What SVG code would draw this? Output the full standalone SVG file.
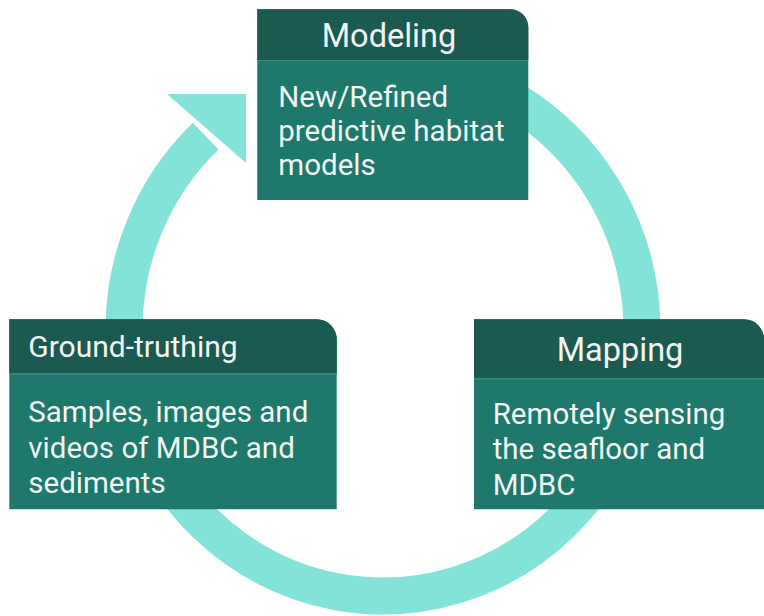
<svg xmlns="http://www.w3.org/2000/svg" width="764" height="616" viewBox="0 0 764 616">
<style>
.body{fill:#1e786c;}
.head{fill:#1a5a50;}
.sep{stroke:#3f8e83;stroke-width:1.2;}
.ht{font-family:Roboto,"Liberation Sans",sans-serif;font-size:30px;fill:#f2f5f4;}
.hc{font-size:32.5px;}
.bt{font-family:Roboto,"Liberation Sans",sans-serif;font-size:29.5px;fill:#f2f5f4;}
</style>
<g id="connectors">
<path d="M427.98,68.04 A259,266 0 1 1 205.7,136.1" fill="none" stroke="#84e3d8" stroke-width="37"/>
<polygon points="167,94 246,94 246,163" fill="#84e3d8"/>
</g>
<g id="modeling">
<path class="body" d="M257.3,9.3 H510.3 A18,18 0 0 1 528.3,27.3 V200 H257.3 Z"/>
<path class="head" d="M257.3,9.3 H510.3 A18,18 0 0 1 528.3,27.3 V60 H257.3 Z"/>
<line class="sep" x1="257.3" y1="60.5" x2="528.3" y2="60.5"/>
<text class="ht hc" x="389" y="47" text-anchor="middle">Modeling</text>
<text class="bt" x="278.3" y="107">New/Refined</text>
<text class="bt" x="278.3" y="141">predictive habitat</text>
<text class="bt" x="278.3" y="175">models</text>
</g>
<g id="ground-truthing">
<path class="body" d="M9.3,319.3 H316.7 A20,20 0 0 1 336.7,339.3 V509.3 H9.3 Z"/>
<path class="head" d="M9.3,319.3 H316.7 A20,20 0 0 1 336.7,339.3 V373.3 H9.3 Z"/>
<line class="sep" x1="9.3" y1="373.8" x2="336.7" y2="373.8"/>
<text class="ht" x="28.3" y="357">Ground-truthing</text>
<text class="bt" x="28.3" y="422">Samples, images and</text>
<text class="bt" x="28.3" y="457.5">videos of MDBC and</text>
<text class="bt" x="28.3" y="493">sediments</text>
</g>
<g id="mapping">
<path class="body" d="M474,319.3 H744 A20,20 0 0 1 764,339.3 V509.3 H474 Z"/>
<path class="head" d="M474,319.3 H744 A20,20 0 0 1 764,339.3 V378.3 H474 Z"/>
<line class="sep" x1="474" y1="378.8" x2="764" y2="378.8"/>
<text class="ht hc" x="620" y="361" text-anchor="middle">Mapping</text>
<text class="bt" x="492.7" y="423.5">Remotely sensing</text>
<text class="bt" x="492.7" y="459">the seafloor and</text>
<text class="bt" x="492.7" y="495">MDBC</text>
</g>
</svg>
